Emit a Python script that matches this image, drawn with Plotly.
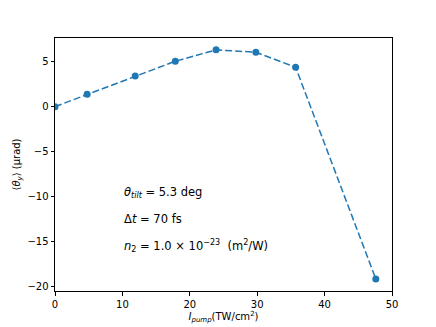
import plotly.graph_objects as go

intensity = [0, 4.77, 11.9, 17.85, 23.9, 29.8, 35.7, 47.6]
theta_y = [0, 1.37, 3.42, 5.06, 6.33, 6.06, 4.39, -19.2]
x_ticks = [0, 10, 20, 30, 40, 50]
y_ticks = [5, 0, -5, -10, -15, -20]
notes = [
    "<i>θ</i><sub><i>tilt</i></sub> = 5.3 deg",
    "Δ<i>t</i> = 70 fs",
    "<i>n</i><sub>2</sub> = 1.0 × 10<sup>−23</sup>  (m<sup>2</sup>/W)",
]
note_y = [-9.6, -12.55, -15.55]

fig = go.Figure()
fig.add_trace(go.Scatter(
    x=intensity, y=theta_y, mode="lines+markers",
    line=dict(color="#1f77b4", dash="7px,3px", width=1.5),
    marker=dict(color="#1f77b4", size=7),
))
for t, yy in zip(notes, note_y):
    fig.add_annotation(x=10, y=yy, text=t, showarrow=False, xanchor="left",
                       yanchor="middle", font=dict(size=11.5, color="black"))

axis_common = dict(showgrid=False, zeroline=False, showline=True, linecolor="black",
                   linewidth=1, mirror=True, ticks="outside", ticklen=3.5,
                   tickcolor="black", tickfont=dict(size=10, color="black"),
                   automargin=False)
fig.update_xaxes(range=[0, 50], tickvals=x_ticks,
                 title=dict(text="<i>I</i><sub><i>pump</i></sub>(TW/cm<sup>2</sup>)",
                            font=dict(size=10, color="black"), standoff=4),
                 **axis_common)
fig.update_yaxes(range=[-20.54, 7.65], tickvals=y_ticks,
                 ticktext=[str(v).replace("-", "−") for v in y_ticks],
                 title=dict(text="⟨<i>θ</i><sub><i>y</i></sub>⟩ (μrad)",
                            font=dict(size=10, color="black"), standoff=4),
                 **axis_common)
fig.update_layout(width=428, height=319, showlegend=False,
                  margin=dict(l=47, r=44, t=30, b=36),
                  paper_bgcolor="white", plot_bgcolor="white",
                  font=dict(family="DejaVu Sans", color="black"))
fig.write_html("out.html")
